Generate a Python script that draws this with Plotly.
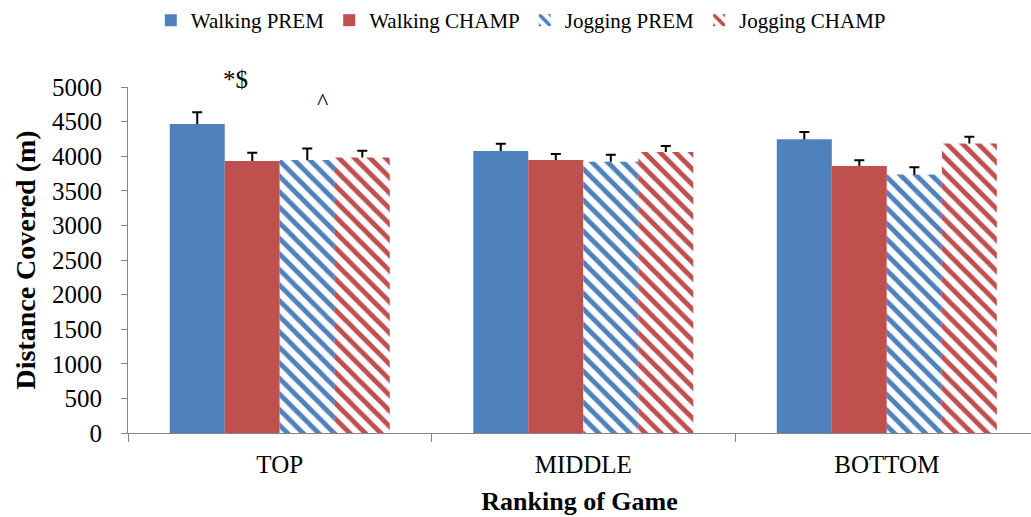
import plotly.graph_objects as go

# Match ranking categories
categories = ["TOP", "MIDDLE", "BOTTOM"]

# Mean distance covered (m) per group
walking_prem = [4465, 4075, 4245]
walking_champ = [3930, 3945, 3860]
jogging_prem = [3945, 3920, 3735]
jogging_champ = [3980, 4060, 4185]

# Error bars (SD)
walking_prem_err = [170, 105, 105]
walking_champ_err = [120, 88, 82]
jogging_prem_err = [168, 100, 104]
jogging_champ_err = [100, 88, 96]

series_names = ["Walking PREM", "Walking CHAMP", "Jogging PREM", "Jogging CHAMP"]
series_values = [walking_prem, walking_champ, jogging_prem, jogging_champ]
series_errors = [walking_prem_err, walking_champ_err, jogging_prem_err, jogging_champ_err]

BLUE = "#4F81BD"
RED = "#C0504D"
FONT = "Liberation Serif"

series_markers = [
    dict(color=BLUE, line=dict(width=0)),
    dict(color=RED, line=dict(width=0)),
    dict(color="white", line=dict(width=0),
         pattern=dict(shape="\\", fgcolor=BLUE, bgcolor="white", size=11,
                      solidity=0.45, fillmode="replace")),
    dict(color="white", line=dict(width=0),
         pattern=dict(shape="\\", fgcolor=RED, bgcolor="white", size=11,
                      solidity=0.45, fillmode="replace")),
]

fig = go.Figure()

# Error bars go on transparent bars drawn first, so the solid bars on top
# hide the lower half of each whisker.
for name, vals, errs in zip(series_names, series_values, series_errors):
    fig.add_trace(go.Bar(
        x=categories, y=vals, offsetgroup=name, showlegend=False, hoverinfo="skip",
        marker=dict(color="rgba(0,0,0,0)", line=dict(width=0)),
        error_y=dict(type="data", array=errs, symmetric=True,
                     color="black", thickness=2, width=5),
    ))

for name, vals, marker in zip(series_names, series_values, series_markers):
    fig.add_trace(go.Bar(name=name, x=categories, y=vals, offsetgroup=name, marker=marker))

# Significance markers
fig.add_annotation(x="TOP", xref="x", y=1.066, yref="paper", text="*$", showarrow=False,
                   xshift=-44, font=dict(family=FONT, size=25, color="black"))
fig.add_annotation(x="TOP", xref="x", y=4800, yref="y", text="^", showarrow=False,
                   xshift=43, font=dict(family=FONT, size=24, color="black"))

fig.update_layout(
    width=1031, height=517,
    margin=dict(l=128, r=0, t=84, b=84),
    paper_bgcolor="white", plot_bgcolor="white",
    barmode="group", bargap=0.275, bargroupgap=0,
    font=dict(family=FONT, color="black"),
    legend=dict(orientation="h", x=0.435, xanchor="center", y=1.1925, yanchor="middle",
                font=dict(family=FONT, size=21), traceorder="normal"),
    showlegend=True,
)
fig.update_xaxes(
    range=[-0.5, 2.475],
    showline=True, linecolor="#868686", linewidth=1,
    ticks="outside", tickson="boundaries", ticklen=8, tickcolor="#868686",
    tickfont=dict(family=FONT, size=25), ticklabelstandoff=9,
    title=dict(text="<b>Ranking of Game</b>", font=dict(family=FONT, size=26), standoff=14),
    showgrid=False,
)
fig.update_yaxes(
    range=[0, 5000], dtick=500,
    showline=True, linecolor="#868686", linewidth=1,
    ticks="outside", ticklen=6, tickcolor="#868686",
    tickfont=dict(family=FONT, size=25), ticklabelstandoff=14,
    title=dict(text="<b>Distance Covered (m)</b>", font=dict(family=FONT, size=28), standoff=8),
    showgrid=False, zeroline=False,
)

fig.write_html("out.html")
